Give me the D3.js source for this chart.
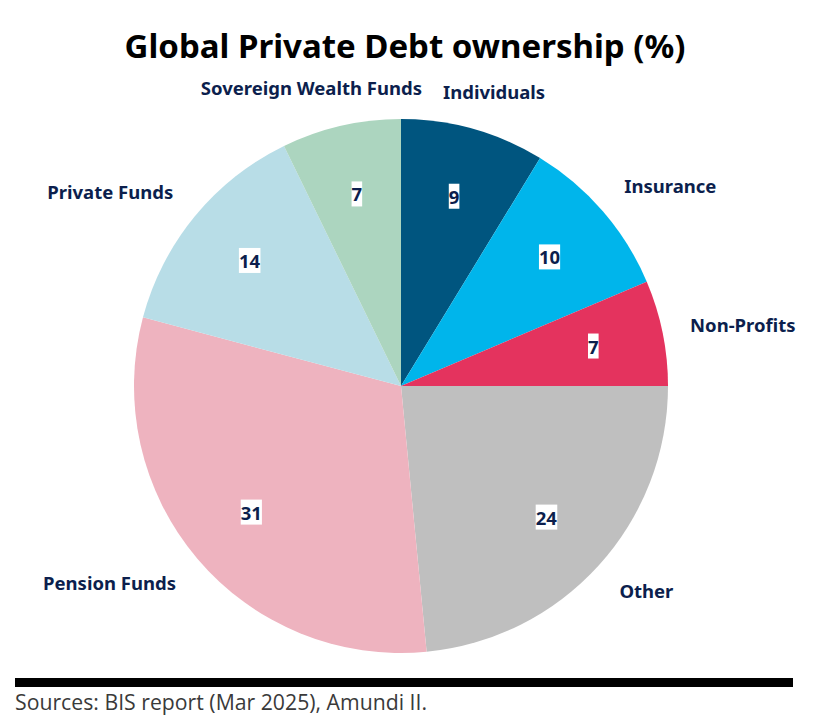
<!DOCTYPE html>
<html>
<head>
<meta charset="utf-8">
<script src="https://cdn.jsdelivr.net/npm/d3@7"></script>
<style>
  body { margin: 0; background: #fff; }
  svg { display: block; }
</style>
</head>
<body>
<script>
// data
var categories = ["Individuals", "Insurance", "Non-Profits", "Other", "Pension Funds", "Private Funds", "Sovereign Wealth Funds"];
var shares = [8.72, 9.89, 6.39, 23.47, 30.67, 13.64, 7.22];
var shownLabels = ["9", "10", "7", "24", "31", "14", "7"];
var colours = ["#00557f", "#00b5eb", "#e4335e", "#bfbfbf", "#eeb3bf", "#b8dde7", "#acd5bf"];

var width = 818, height = 726;
var cx = 401, cy = 386, radius = 267;
var navy = "#0c1f4d";
var font = "'Noto Sans', 'Open Sans', sans-serif";

var data = categories.map(function(c, i) {
  return {name: c, value: shares[i], label: shownLabels[i], colour: colours[i]};
});

var svg = d3.select("body").append("svg")
    .attr("width", width)
    .attr("height", height);

// title
svg.append("text")
    .attr("x", 405)
    .attr("y", 58)
    .attr("text-anchor", "middle")
    .style("font-family", font)
    .style("font-weight", "bold")
    .style("font-size", "33px")
    .style("fill", "#000")
    .text("Global Private Debt ownership (%)");

var pie = d3.pie()
    .sort(null)
    .value(function(d) { return d.value; });

var arc = d3.arc().innerRadius(0).outerRadius(radius);
var labelArc = d3.arc().innerRadius(radius * 0.735).outerRadius(radius * 0.735);

var arcs = pie(data);

var g = svg.append("g")
    .attr("transform", "translate(" + cx + "," + cy + ")");

g.selectAll("path.slice")
    .data(arcs)
  .enter().append("path")
    .attr("class", "slice")
    .attr("d", arc)
    .attr("fill", function(d) { return d.data.colour; });

// value labels with white box
var vals = g.selectAll("g.val")
    .data(arcs)
  .enter().append("g")
    .attr("class", "val")
    .attr("transform", function(d) { return "translate(" + labelArc.centroid(d) + ")"; });

vals.append("rect").attr("fill", "#fff");
vals.append("text")
    .attr("text-anchor", "middle")
    .attr("dy", "0.36em")
    .style("font-family", font)
    .style("font-weight", "bold")
    .style("font-size", "18.5px")
    .style("fill", navy)
    .text(function(d) { return d.data.label; });

vals.each(function() {
  var t = d3.select(this).select("text").node().getBBox();
  d3.select(this).select("rect")
      .attr("x", t.x)
      .attr("y", t.y)
      .attr("width", t.width)
      .attr("height", t.height);
});

// category labels outside the pie
var rx = 295, ry = 305;
var outer = arcs.map(function(d) {
  var a = (d.startAngle + d.endAngle) / 2;
  var s = Math.sin(a);
  var anchor = Math.abs(s) < 0.3 ? "middle" : (s > 0 ? "start" : "end");
  return {d: d, x: rx * s, y: -ry * Math.cos(a), anchor: anchor};
});

var names = g.selectAll("text.name")
    .data(outer)
  .enter().append("text")
    .attr("class", "name")
    .attr("dy", "0.36em")
    .attr("text-anchor", function(o) { return o.anchor; })
    .style("font-family", font)
    .style("font-weight", "bold")
    .style("font-size", "18.5px")
    .style("fill", navy)
    .text(function(o) { return o.d.data.name; });

// push apart the centred top labels if they collide
names.each(function(o) { o.w = this.getComputedTextLength(); });
var topLabels = outer.filter(function(o) { return o.anchor === "middle" && o.y < 0; })
    .sort(function(a, b) { return a.x - b.x; });
for (var i = 1; i < topLabels.length; i++) {
  var a = topLabels[i - 1], b = topLabels[i];
  var overlap = (a.x + a.w / 2) - (b.x - b.w / 2) + 21;
  if (overlap > 0) { a.x -= overlap / 2 + 5; b.x += overlap / 2 - 5; }
}
names.attr("x", function(o) { return o.x; })
    .attr("y", function(o) { return o.y; });

// footer
svg.append("rect")
    .attr("x", 15)
    .attr("y", 678)
    .attr("width", 778)
    .attr("height", 9)
    .attr("fill", "#000");

svg.append("text")
    .attr("x", 15)
    .attr("y", 710)
    .attr("textLength", 412)
    .attr("lengthAdjust", "spacingAndGlyphs")
    .style("font-family", "'Open Sans', 'Noto Sans', sans-serif")
    .style("font-size", "21px")
    .style("fill", "#3a3a3a")
    .text("Sources: BIS report (Mar 2025), Amundi II.");
</script>
</body>
</html>
